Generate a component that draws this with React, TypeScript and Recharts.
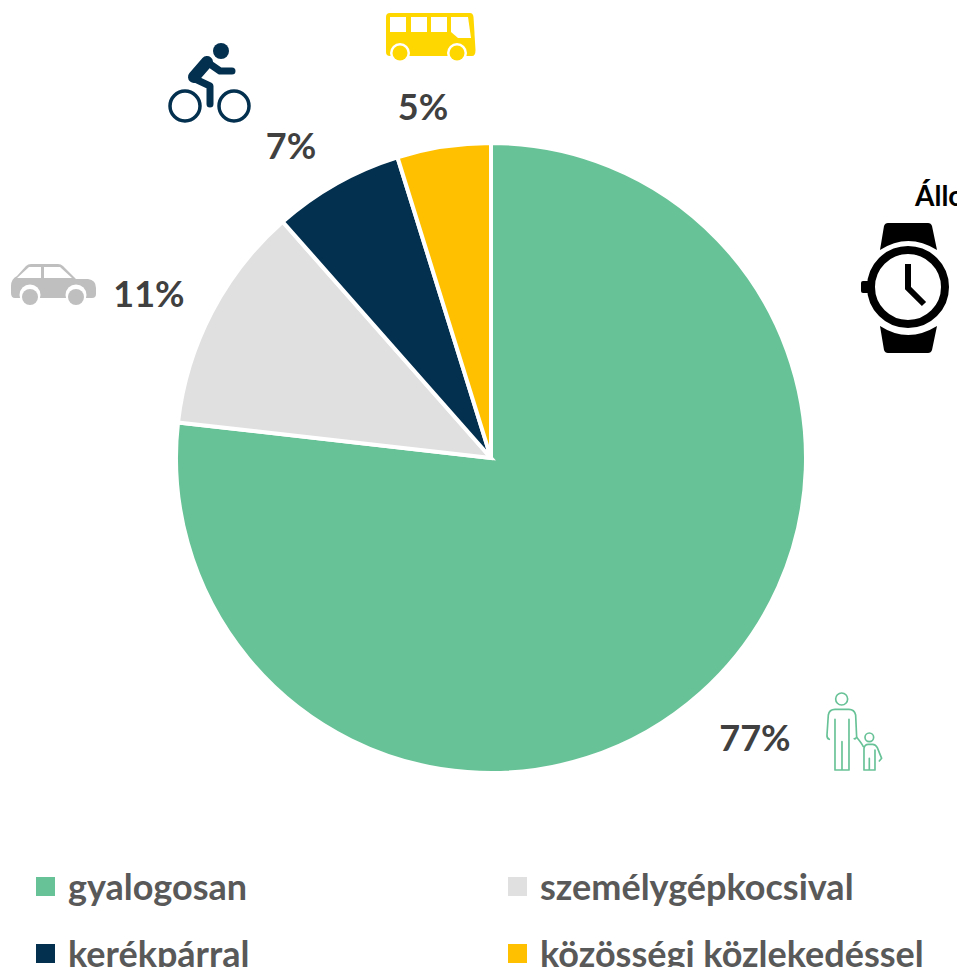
import React from 'react';
import { PieChart, Pie, Cell, Legend } from 'recharts';

const categories = ['gyalogosan', 'személygépkocsival', 'kerékpárral', 'közösségi közlekedéssel'];
const shares = [76.8, 11.7, 6.7, 4.8];
const shareLabels = ['77%', '11%', '7%', '5%'];
const colors = ['#68C297', '#E0E0E0', '#03304F', '#FFC000'];
const labelOffsets = [[264, 279], [-342, -165], [-200, -313], [-68, -352]];
const legendSlots = [[36, 877], [508, 877], [36, 944], [508, 944]];

const data = categories.map((name, i) => ({ name, value: shares[i], label: shareLabels[i] }));
const FONT = 'Lato, Carlito, sans-serif';

const renderLabel = (p: any) => {
  const [dx, dy] = labelOffsets[p.index];
  return (
    <text x={p.cx + dx} y={p.cy + dy} textAnchor="middle" dominantBaseline="central"
      fontFamily={FONT} fontWeight={700} fontSize={36} fill="#404040">
      {shareLabels[p.index]}
    </text>
  );
};

const renderLegend = () => (
  <svg width={965} height={975} style={{ position: 'absolute', left: 0, top: 0 }}>
    {categories.map((c, i) => (
      <g key={c}>
        <rect x={legendSlots[i][0]} y={legendSlots[i][1]} width={19} height={19} fill={colors[i]} />
        <text x={legendSlots[i][0] + 32} y={legendSlots[i][1] + 23} fontFamily={FONT} fontWeight={700} fontSize={36} fill="#595959">{c}</text>
      </g>
    ))}
  </svg>
);

const Icons = () => (
  <g>
    {/* bus */}
    <path d="M390 13H470Q473 13 473.5 17L475.5 50Q475.5 56 472 56H390Q386 56 386 52V17Q386 13 390 13Z" fill="#FFD700" />
    <g fill="#fff">
      <rect x="390" y="17" width="16" height="15" />
      <rect x="411" y="17" width="16" height="15" />
      <rect x="431" y="17" width="16" height="15" />
      <path d="M451 17H468L471 38H458L451 32Z" />
      <circle cx="400" cy="53" r="10" />
      <circle cx="457" cy="53" r="10" />
    </g>
    <rect x="386" y="56" width="90" height="9" fill="#fff" />
    <circle cx="400" cy="53" r="7.5" fill="#FFD700" />
    <circle cx="457" cy="53" r="7.5" fill="#FFD700" />
    {/* cyclist */}
    <g stroke="#03304F" fill="none" strokeLinecap="round" strokeLinejoin="round">
      <circle cx="221" cy="51" r="8" fill="#03304F" stroke="none" />
      <path d="M207 62L194 77" strokeWidth="12" />
      <path d="M207 62L220 71H232" strokeWidth="7" />
      <path d="M193 78L210 86V104" strokeWidth="7" />
      <circle cx="185" cy="106" r="15" strokeWidth="3.5" />
      <circle cx="234" cy="106" r="15" strokeWidth="3.5" />
    </g>
    {/* car */}
    <path d="M11 286Q11 279 17 276L26 266Q28 264 31 264H58Q61 264 63 266L76 279H88Q96 280 96 288V294Q96 298 92 298H15Q11 298 11 293Z" fill="#BFBFBF" />
    <path d="M17 278L29 267H41V278ZM44 267H60L72 278H44Z" fill="#fff" />
    <circle cx="30" cy="295" r="10.5" fill="#fff" />
    <circle cx="76" cy="295" r="10.5" fill="#fff" />
    <circle cx="30" cy="297" r="8" fill="#BFBFBF" />
    <circle cx="76" cy="297" r="8" fill="#BFBFBF" />
    {/* watch */}
    <path d="M888 223H928Q931 223 932 226L937 250Q908 232 880 250L884 226Q885 223 888 223Z" fill="#000" />
    <path d="M880 326Q908 344 937 326L932 350Q931 353 928 353H888Q885 353 884 350Z" fill="#000" />
    <circle cx="908" cy="287" r="37" fill="none" stroke="#000" strokeWidth="8" />
    <rect x="861" y="281" width="9" height="12" rx="2" fill="#000" />
    <path d="M908 264V288L924 304" fill="none" stroke="#000" strokeWidth="6" />
    <text x="915" y="206" fontFamily={FONT} fontWeight={700} fontSize={28} fill="#000">Állo</text>
    {/* parent and child */}
    <g transform="translate(700 680) scale(0.3333)" fill="none" stroke="#68C297" strokeWidth="5" strokeLinejoin="round" strokeLinecap="round">
      <circle cx="425" cy="57" r="18" />
      <path d="M388 178Q380 175 381 165L385 105Q388 88 405 88H447Q463 88 467 105L470 172Q485 190 490 200" />
      <path d="M405 118V270H447V118M426 185V270M470 172Q465 178 463 176" />
      <circle cx="508" cy="172" r="13" />
      <path d="M492 270V205Q494 193 505 193H518Q527 193 532 203L545 235L538 243M492 270H525V210M508 235V270" />
    </g>
  </g>
);

export default function App() {
  return (
    <div style={{ margin: -8, width: 965, height: 975, position: 'relative', overflow: 'hidden' }}>
      <PieChart width={965} height={975} margin={{ top: 0, right: 0, bottom: 0, left: 0 }}>
        <Pie data={data} dataKey="value" nameKey="name" cx={491} cy={458} outerRadius={315} innerRadius={0}
          startAngle={90} endAngle={-270} stroke="#fff" strokeWidth={4} label={renderLabel} labelLine={false}
          isAnimationActive={false}>
          {data.map((d, i) => <Cell key={d.name} fill={colors[i]} />)}
        </Pie>
        <Legend content={renderLegend} wrapperStyle={{ left: 0, top: 0, width: 965, height: 975, bottom: 'auto', pointerEvents: 'none' }} />
        <Icons />
      </PieChart>
    </div>
  );
}
